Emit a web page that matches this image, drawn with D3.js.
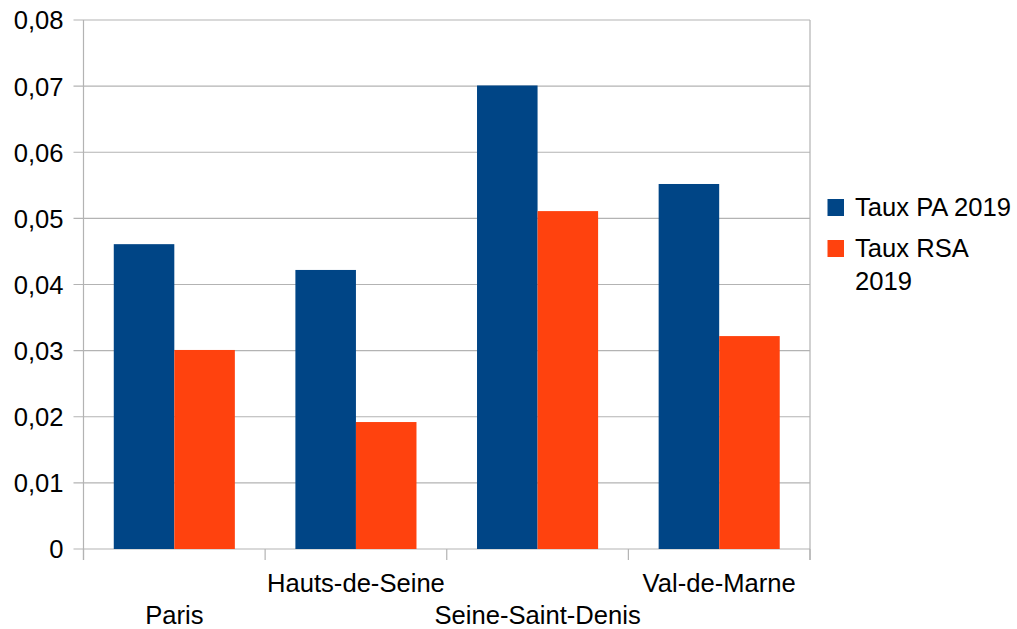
<!DOCTYPE html>
<html>
<head>
<meta charset="utf-8">
<script src="https://cdn.jsdelivr.net/npm/d3@7"></script>
<style>
  html, body { margin: 0; padding: 0; background: #fff; }
  svg { display: block; font-family: "Liberation Sans", Arial, sans-serif; }
</style>
</head>
<body>
<svg id="chart" width="1017" height="629"></svg>
<script>
// Départements
const categories = ["Paris", "Hauts-de-Seine", "Seine-Saint-Denis", "Val-de-Marne"];
// Series
const seriesNames = ["Taux PA 2019", "Taux RSA 2019"];
const tauxPA = [0.0461, 0.0422, 0.0701, 0.0552];
const tauxRSA = [0.0301, 0.0192, 0.0511, 0.0322];
// Y axis ticks
const yTicks = [0, 0.01, 0.02, 0.03, 0.04, 0.05, 0.06, 0.07, 0.08];
const yTickLabels = ["0", "0,01", "0,02", "0,03", "0,04", "0,05", "0,06", "0,07", "0,08"];

const colors = ["#004586", "#ff420e"];
const gridColor = "#b3b3b3";
const fontSize = 25.6;

const svg = d3.select("#chart");
const plotLeft = 83.5, plotRight = 810, plotTop = 20, plotBottom = 549;

const x = d3.scaleBand().domain(categories).range([plotLeft, plotRight]).padding(0);
const x1 = d3.scaleBand().domain(seriesNames).range([0, x.bandwidth()])
  .paddingInner(0).paddingOuter(0.5);
const y = d3.scaleLinear().domain([0, 0.08]).range([plotBottom, plotTop]);

// Horizontal gridlines
svg.append("g").selectAll("line").data(yTicks).join("line")
  .attr("x1", plotLeft - 10).attr("x2", plotRight)
  .attr("y1", d => y(d)).attr("y2", d => y(d))
  .attr("stroke", gridColor).attr("stroke-width", 1.2);

// Y axis labels
const yAxis = d3.axisLeft(y).tickValues(yTicks)
  .tickFormat((d, i) => yTickLabels[i]).tickSize(0).tickPadding(20);
const gy = svg.append("g").attr("transform", `translate(${plotLeft},0)`).call(yAxis);
gy.select(".domain").remove();
gy.selectAll("text").attr("font-size", fontSize).attr("fill", "#000")
  .attr("font-family", "Liberation Sans, Arial, sans-serif").attr("dy", "0.35em");

// Bars
const rows = categories.map((c, i) => ({ cat: c, vals: [tauxPA[i], tauxRSA[i]] }));
const groups = svg.append("g").selectAll("g").data(rows).join("g")
  .attr("transform", d => `translate(${x(d.cat)},0)`);
groups.selectAll("rect").data(d => d.vals.map((v, k) => ({ v, s: seriesNames[k], k })))
  .join("rect")
  .attr("x", d => x1(d.s))
  .attr("width", x1.bandwidth())
  .attr("y", d => y(d.v))
  .attr("height", d => y(0) - y(d.v))
  .attr("fill", d => colors[d.k]);

// Axis lines and category boundary ticks
const boundaries = categories.map(c => x(c)).concat([plotRight]);
svg.append("line").attr("x1", plotLeft).attr("x2", plotLeft).attr("y1", plotTop).attr("y2", plotBottom + 11)
  .attr("stroke", gridColor).attr("stroke-width", 1.2);
svg.append("line").attr("x1", plotRight).attr("x2", plotRight).attr("y1", plotTop).attr("y2", plotBottom + 11)
  .attr("stroke", gridColor).attr("stroke-width", 1.2);
svg.append("g").selectAll("line").data(boundaries).join("line")
  .attr("x1", d => d).attr("x2", d => d).attr("y1", plotBottom).attr("y2", plotBottom + 11)
  .attr("stroke", gridColor).attr("stroke-width", 1.2);

// Category labels, staggered on two rows
svg.append("g").selectAll("text").data(categories).join("text")
  .attr("x", d => x(d) + x.bandwidth() / 2)
  .attr("y", (d, i) => i % 2 === 0 ? 624 : 592)
  .attr("text-anchor", "middle")
  .attr("font-size", fontSize).attr("fill", "#000")
  .text(d => d);

// Legend
const legend = svg.append("g");
const legendRows = [
  { lines: ["Taux PA 2019"], y: 216 },
  { lines: ["Taux RSA", "2019"], y: 257 }
];
legendRows.forEach((r, i) => {
  legend.append("rect").attr("x", 827.5).attr("y", r.y - 17).attr("width", 16.5).attr("height", 17)
    .attr("fill", colors[i]);
  const t = legend.append("text").attr("x", 855).attr("y", r.y)
    .attr("font-size", fontSize).attr("fill", "#000");
  r.lines.forEach((ln, j) => {
    t.append("tspan").attr("x", 855).attr("dy", j === 0 ? 0 : 33).text(ln);
  });
});
</script>
</body>
</html>
